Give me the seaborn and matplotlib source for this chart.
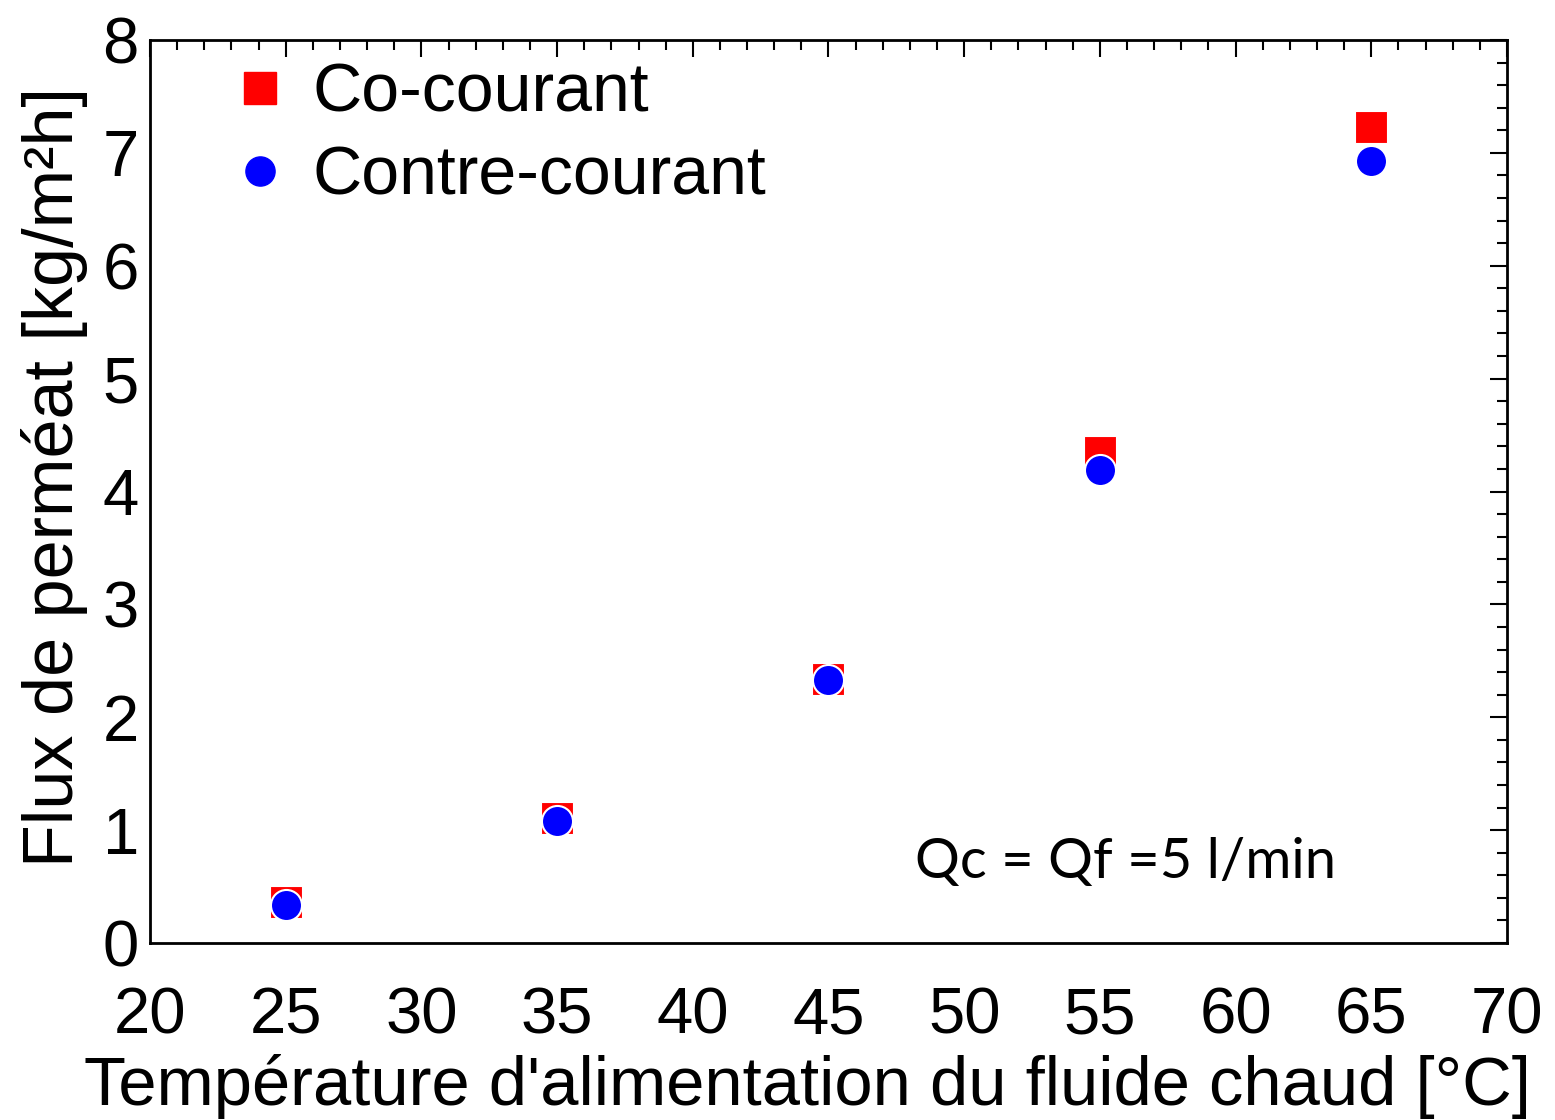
import matplotlib
matplotlib.use("Agg")
import matplotlib.pyplot as plt
import seaborn as sns
import pandas as pd
from matplotlib.ticker import MultipleLocator
from matplotlib.lines import Line2D

temperatures = [25, 35, 45, 55, 65]
co_courant = [0.36, 1.11, 2.34, 4.35, 7.23]
contre_courant = [0.34, 1.08, 2.33, 4.19, 6.93]
series_names = ["Co-courant", "Contre-courant"]
x_ticks = [20, 25, 30, 35, 40, 45, 50, 55, 60, 65, 70]
y_ticks = [0, 1, 2, 3, 4, 5, 6, 7, 8]

df = pd.DataFrame({
    "T": temperatures + temperatures,
    "Flux": co_courant + contre_courant,
    "Série": [series_names[0]] * len(temperatures) + [series_names[1]] * len(temperatures),
})

sns.set_theme(style="white")
plt.rcParams["font.family"] = ["Liberation Sans", "DejaVu Sans"]
plt.rcParams["text.color"] = "black"
plt.rcParams["axes.labelcolor"] = "black"
plt.rcParams["xtick.color"] = "black"
plt.rcParams["ytick.color"] = "black"

fig = plt.figure(figsize=(15.55, 11.2), dpi=100)
ax = fig.add_axes([150/1555, 1 - 943/1120, (1507-150)/1555, (943-40)/1120])

sns.scatterplot(data=df[df["Série"] == series_names[0]], x="T", y="Flux", ax=ax,
                marker="s", color="#ff0000", s=560, edgecolor="white", linewidth=0.8,
                legend=False)
sns.scatterplot(data=df[df["Série"] == series_names[1]], x="T", y="Flux", ax=ax,
                marker="o", color="#0000ff", s=500, edgecolor="white", linewidth=1.5,
                legend=False)

ax.set_xlim(20, 70)
ax.set_ylim(0, 8)
ax.set_xticks(x_ticks)
ax.set_yticks(y_ticks)
ax.xaxis.set_minor_locator(MultipleLocator(1))
ax.yaxis.set_minor_locator(MultipleLocator(0.2))
ax.tick_params(which="both", direction="in", top=True, right=True, width=1.5, color="black",
               labelcolor="black")
ax.tick_params(which="major", length=12)
ax.tick_params(which="minor", length=7)
ax.tick_params(axis="x", which="major", pad=31, labelsize=47)
ax.tick_params(axis="y", which="major", pad=8, labelsize=47)
for sp in ax.spines.values():
    sp.set_color("black")
    sp.set_linewidth(2)

ax.set_xlabel("Température d'alimentation du fluide chaud [°C]", fontsize=49.5, color="black")
ax.xaxis.set_label_coords((807 - 150) / 1357, (943 - 1054) / 903)
ax.set_ylabel("Flux de perméat [kg/m²h]", fontsize=50.5, color="black")
ax.yaxis.set_label_coords((88 - 150) / 1357, (943 - 477) / 903)

handles = [
    Line2D([], [], marker="s", color="#ff0000", linestyle="none", markersize=23),
    Line2D([], [], marker="o", color="#0000ff", linestyle="none", markersize=21),
]
ax.legend(handles, series_names, loc="upper left", bbox_to_anchor=((233 - 150) / 1357, (943 - 62) / 903),
          frameon=False, fontsize=49, handlelength=0.8, handletextpad=0.37, labelspacing=0.27,
          borderaxespad=0, borderpad=0, labelcolor="black")

ax.text((915 - 150) / 1357, (943 - 878) / 903, "Qc = Qf =5 l/min", transform=ax.transAxes,
        fontsize=40.4, family=["Lato", "DejaVu Sans"], ha="left", va="baseline", color="black")

fig.savefig("out.png", dpi=100)
